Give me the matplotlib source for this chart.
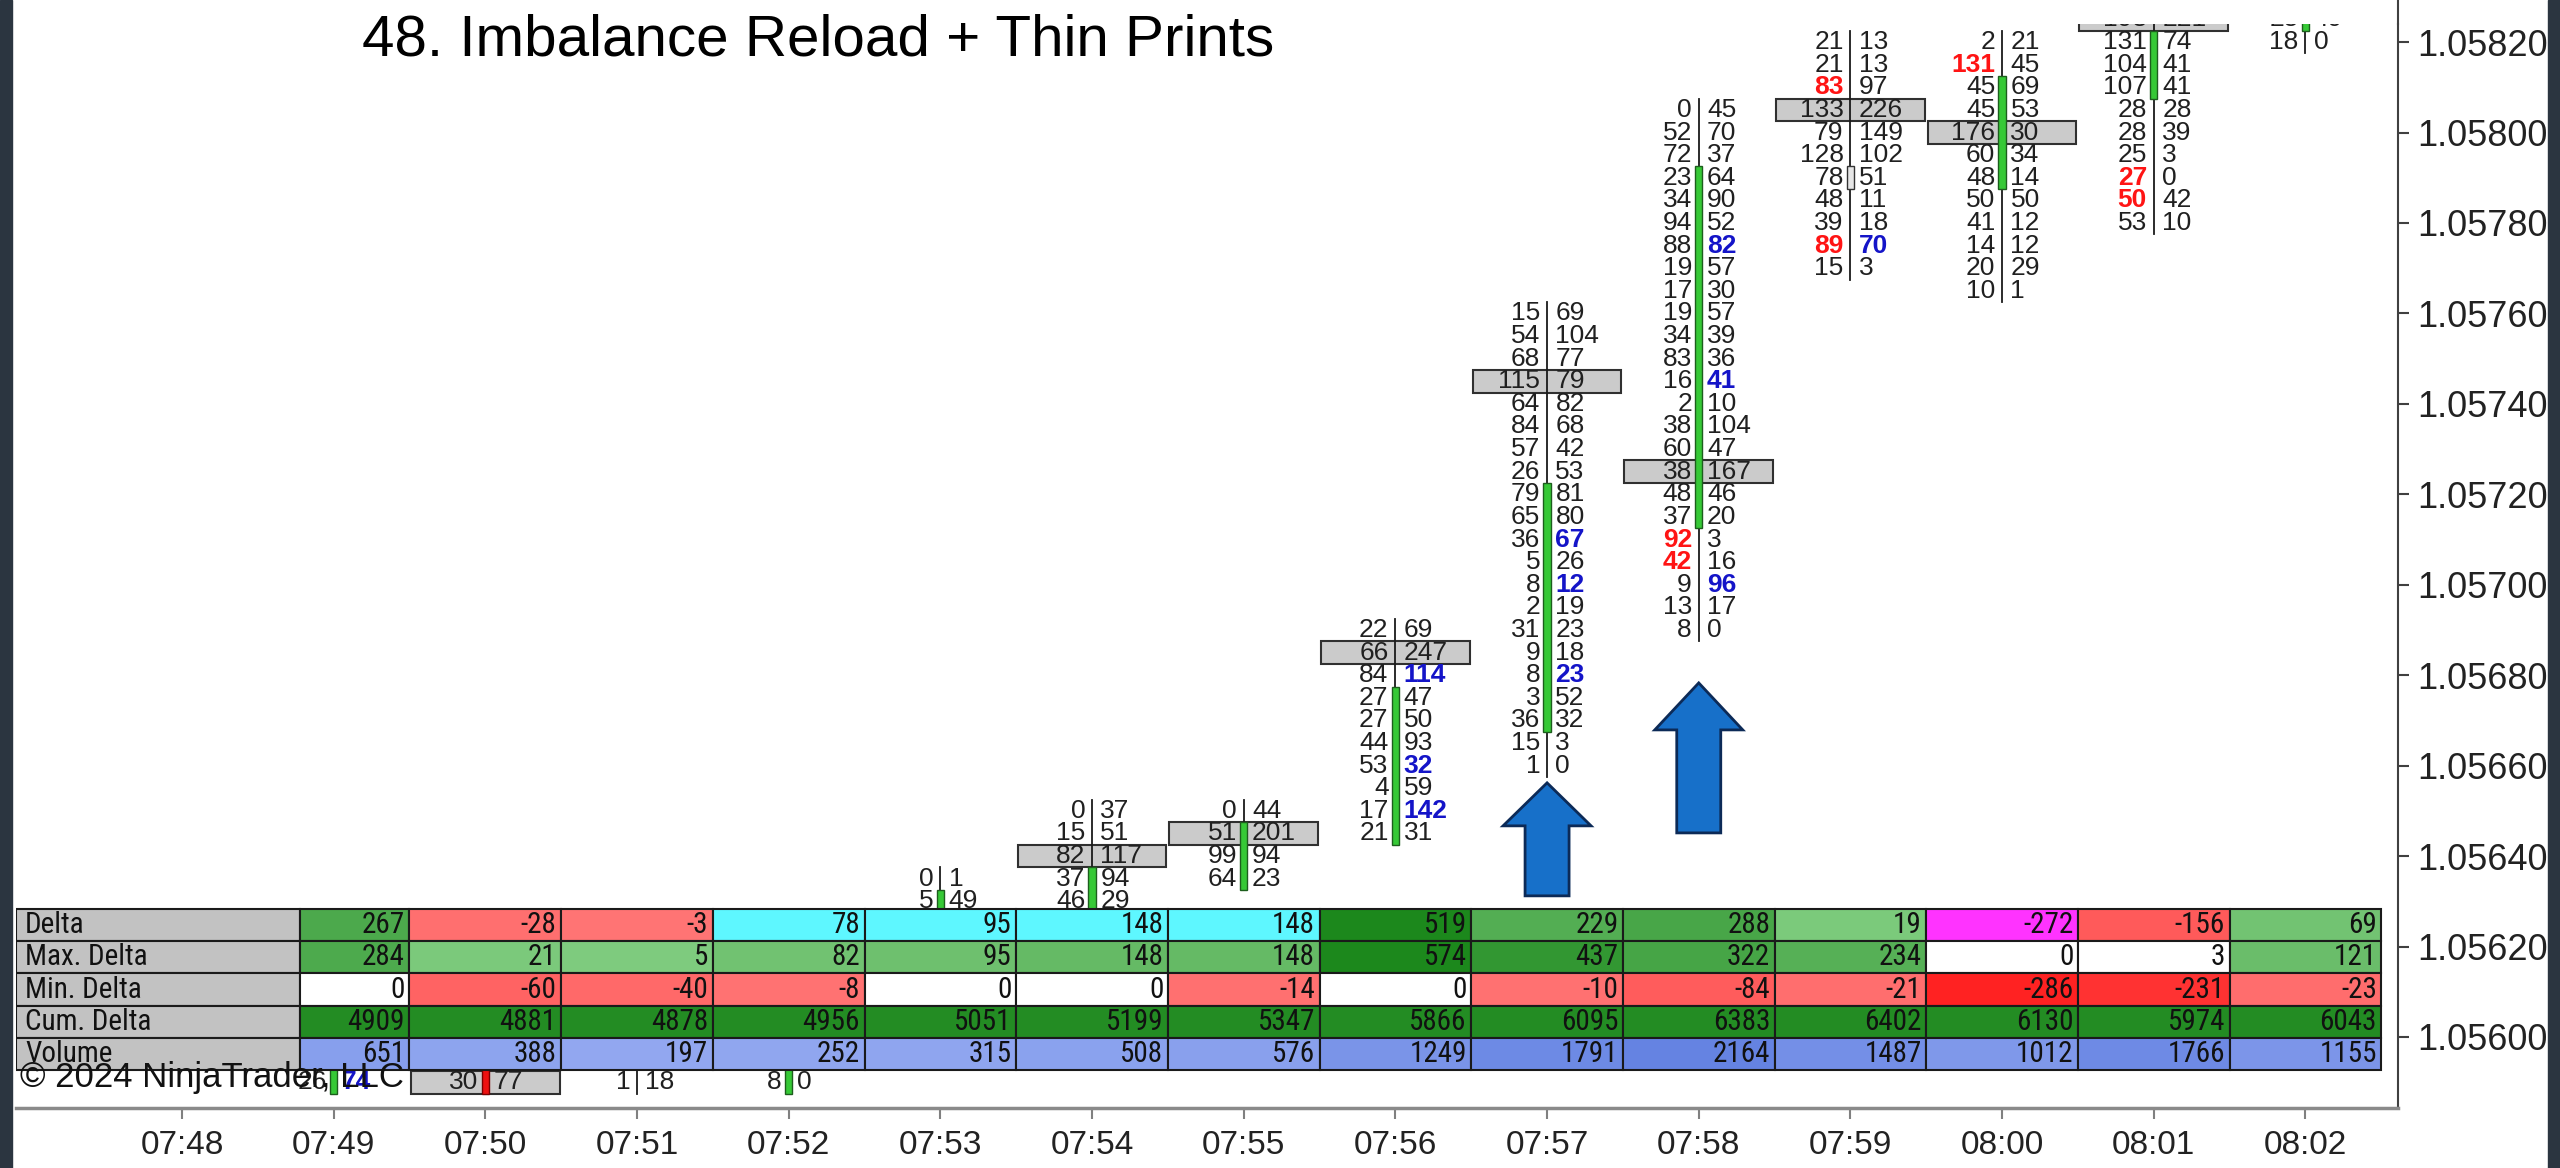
import matplotlib
matplotlib.use("Agg")
import matplotlib.pyplot as plt
import matplotlib.transforms as mtransforms
from matplotlib.patches import Rectangle, Polygon
from matplotlib.lines import Line2D
from matplotlib import font_manager

tick = 0.00005  # price ladder step

times = ["07:48", "07:49", "07:50", "07:51", "07:52", "07:53", "07:54", "07:55",
         "07:56", "07:57", "07:58", "07:59", "08:00", "08:01", "08:02"]

# candles for 07:49 .. 08:02 (parts behind the stats table are guesses)
bar_open = [1.05590, 1.05610, 1.05600, 1.05590, 1.05605, 1.05615, 1.05635,
            1.05645, 1.05670, 1.05715, 1.05790, 1.05790, 1.05810, 1.05825]
bar_close = [1.05610, 1.05590, 1.05600, 1.05610, 1.05630, 1.05635, 1.05645,
             1.05675, 1.05720, 1.05790, 1.05790, 1.05810, 1.05820, 1.05830]
bar_high = [1.05615, 1.05620, 1.05610, 1.05615, 1.05635, 1.05650, 1.05650,
            1.05690, 1.05760, 1.05805, 1.05820, 1.05820, 1.05830, 1.05835]
bar_low = [1.05590, 1.05590, 1.05590, 1.05590, 1.05600, 1.05610, 1.05635,
           1.05645, 1.05660, 1.05690, 1.05770, 1.05765, 1.05780, 1.05820]

# visible footprint rows, listed from the top price downward
fp_top = [1.05590, 1.05590, 1.05590, 1.05590, 1.05635, 1.05650, 1.05650,
          1.05690, 1.05760, 1.05805, 1.05820, 1.05820, 1.05825, 1.05825]
fp_bid = [
    [26], [30], [1], [8], [0, 5],
    [0, 15, 82, 37, 46],
    [0, 51, 99, 64],
    [22, 66, 84, 27, 27, 44, 53, 4, 17, 21],
    [15, 54, 68, 115, 64, 84, 57, 26, 79, 65, 36, 5, 8, 2, 31, 9, 8, 3, 36, 15, 1],
    [0, 52, 72, 23, 34, 94, 88, 19, 17, 19, 34, 83, 16, 2, 38, 60, 38, 48, 37, 92, 42, 9, 13, 8],
    [21, 21, 83, 133, 79, 128, 78, 48, 39, 89, 15],
    [2, 131, 45, 45, 176, 60, 48, 50, 41, 14, 20, 10],
    [193, 131, 104, 107, 28, 28, 25, 27, 50, 53],
    [25, 18],
]
fp_ask = [
    [74], [77], [18], [0], [1, 49],
    [37, 51, 117, 94, 29],
    [44, 201, 94, 23],
    [69, 247, 114, 47, 50, 93, 32, 59, 142, 31],
    [69, 104, 77, 79, 82, 68, 42, 53, 81, 80, 67, 26, 12, 19, 23, 18, 23, 52, 32, 3, 0],
    [45, 70, 37, 64, 90, 52, 82, 57, 30, 57, 39, 36, 41, 10, 104, 47, 167, 46, 20, 3, 16, 96, 17, 0],
    [13, 13, 97, 226, 149, 102, 51, 11, 18, 70, 3],
    [21, 45, 69, 53, 30, 34, 14, 50, 12, 12, 29, 1],
    [221, 74, 41, 41, 28, 39, 3, 0, 42, 10],
    [49, 0],
]
poc_price = [None, 1.05590, None, None, None, 1.05640, 1.05645, 1.05685,
             1.05745, 1.05725, 1.05805, 1.05800, 1.05825, None]

ask_imbalance = [("07:49", 1.05590), ("07:56", 1.05680), ("07:56", 1.05660),
                 ("07:56", 1.05650), ("07:57", 1.05710), ("07:57", 1.05700),
                 ("07:57", 1.05680), ("07:58", 1.05775), ("07:58", 1.05745),
                 ("07:58", 1.05700), ("07:59", 1.05775)]
bid_imbalance = [("07:58", 1.05710), ("07:58", 1.05705), ("07:59", 1.05810),
                 ("07:59", 1.05775), ("08:00", 1.05815), ("08:01", 1.05790),
                 ("08:01", 1.05785)]

# bar statistics table (07:49 .. 08:02)
row_labels = ["Delta", "Max. Delta", "Min. Delta", "Cum. Delta", "Volume"]
delta = [267, -28, -3, 78, 95, 148, 148, 519, 229, 288, 19, -272, -156, 69]
max_delta = [284, 21, 5, 82, 95, 148, 148, 574, 437, 322, 234, 0, 3, 121]
min_delta = [0, -60, -40, -8, 0, 0, -14, 0, -10, -84, -21, -286, -231, -23]
cum_delta = [4909, 4881, 4878, 4956, 5051, 5199, 5347, 5866, 6095, 6383, 6402, 6130, 5974, 6043]
volume = [651, 388, 197, 252, 315, 508, 576, 1249, 1791, 2164, 1487, 1012, 1766, 1155]
delta_cyan = ["07:52", "07:53", "07:54", "07:55"]
delta_magenta = ["08:00"]

# arrows drawn on the chart: (bar, tip price, head depth px, length px)
arrows = [("07:57", 1.056562, 43, 113), ("07:58", 1.056783, 47, 150)]

ytick_vals = [1.05600 + 0.0002 * k for k in range(12)]

main_font = "Liberation Sans"
plt.rcParams["font.family"] = [main_font, "DejaVu Sans"]


def pick_narrow_font():
    # the table uses a narrow face; take the best one that is installed
    fonts = font_manager.fontManager.ttflist
    for want in ["Liberation Sans Narrow", "Arial Narrow", "Roboto Condensed",
                 "Noto Sans Condensed", "Open Sans Condensed", "DejaVu Sans Condensed"]:
        for f in fonts:
            if f.name == want and f.weight in (400, "normal", "regular") and f.style == "normal":
                return font_manager.FontProperties(fname=f.fname)
    for fam in ["Noto Sans", "Roboto", "Open Sans", "DejaVu Sans"]:
        for st in ["condensed", "semi-condensed", "extra-condensed"]:
            for f in fonts:
                if (f.name == fam and f.stretch == st and f.style == "normal"
                        and f.weight in (400, "normal", "regular")):
                    return font_manager.FontProperties(fname=f.fname)
    return None


narrow = pick_narrow_font()
if narrow is not None:
    table_props = dict(fontproperties=narrow)
    table_size = 21
else:
    table_props = dict(family=[main_font, "DejaVu Sans"])
    table_size = 18


def mix(c1, c2, t):
    t = max(0.0, min(1.0, t))
    a = matplotlib.colors.to_rgb(c1)
    b = matplotlib.colors.to_rgb(c2)
    return tuple(a[i] + (b[i] - a[i]) * t for i in range(3))


def shade(v, scale):
    if v > 0:
        return mix("#7fcc7f", "#1c881c", v / scale)
    if v < 0:
        return mix("#ff7474", "#ff1e1e", -v / scale)
    return "white"


fig = plt.figure(figsize=(25.6, 11.68), dpi=100)
ax = fig.add_axes([16 / 2560, 60 / 1168, (2398 - 16) / 2560, (1108 - 24) / 1168])
ax.set_xlim(-1.094, 14.61)
ax.set_ylim(1.055843, 1.058240)
bar_x = {t: i for i, t in enumerate(times)}
ask_set = {(t, round(p / tick)) for t, p in ask_imbalance}
bid_set = {(t, round(p / tick)) for t, p in bid_imbalance}

for k in range(len(bar_open)):
    t = times[k + 1]
    x = bar_x[t]
    # point of control box
    if poc_price[k] is not None:
        ax.add_patch(Rectangle((x - 0.49, poc_price[k] - tick / 2), 0.98, tick,
                               facecolor="#cbcbcb", edgecolor="#303030", lw=1.5, zorder=1))
    # wick
    ax.plot([x, x], [bar_low[k] - tick / 2, bar_high[k] + tick / 2], color="#1a1a1a", lw=1.3, zorder=2)
    o, c = bar_open[k], bar_close[k]
    if c > o:
        fc, ec = "#36c936", "#1d5e1d"
    elif c < o:
        fc, ec = "#ee1111", "#7a0000"
    else:
        fc, ec = "#e6e6e6", "#333333"
    ax.add_patch(Rectangle((x - 0.024, min(o, c) - tick / 2), 0.048, abs(c - o) + tick,
                           facecolor=fc, edgecolor=ec, lw=1, zorder=3))
    # bid x ask numbers
    for i, (b, a) in enumerate(zip(fp_bid[k], fp_ask[k])):
        p = fp_top[k] - i * tick
        key = (t, round(p / tick))
        bstyle = dict(color="#ff1414", fontweight="bold") if key in bid_set else dict(color="#202020")
        astyle = dict(color="#1414c8", fontweight="bold") if key in ask_set else dict(color="#202020")
        ax.text(x - 0.045, p, str(b), ha="right", va="center", fontsize=19, zorder=4, clip_on=True, **bstyle)
        ax.text(x + 0.055, p, str(a), ha="left", va="center", fontsize=19, zorder=4, clip_on=True, **astyle)

# arrows (shape in pixels, anchored at the tip)
for t, tip, head, length in arrows:
    tr = fig.dpi_scale_trans + mtransforms.ScaledTranslation(bar_x[t], tip, ax.transData)
    pts = [(0, 0), (44, -head), (22, -head), (22, -length), (-22, -length), (-22, -head), (-44, -head)]
    ax.add_patch(Polygon([(px / 100, py / 100) for px, py in pts], closed=True, transform=tr,
                         facecolor="#1770c9", edgecolor="#0c2a57", lw=2, zorder=5))

# statistics table, fixed to the bottom of the panel
tbl = mtransforms.blended_transform_factory(ax.transData, ax.transAxes)
row_h = 32.2 / 1084
table_top = (1108 - 909) / 1084
label_right = 0.78
rows = [delta, max_delta, min_delta, cum_delta, volume]
for r, (label, vals) in enumerate(zip(row_labels, rows)):
    y0 = table_top - (r + 1) * row_h
    ax.add_patch(Rectangle((-1.094, y0), label_right + 1.094, row_h, transform=tbl,
                           facecolor="#c2c2c2", edgecolor="#1a1a1a", lw=1.5, zorder=6))
    ax.text(-1.094 + 0.06, y0 + row_h / 2, label, transform=tbl, ha="left", va="center",
            fontsize=table_size, color="#111111", zorder=7, **table_props)
    for k, v in enumerate(vals):
        t = times[k + 1]
        x = bar_x[t]
        left = max(x - 0.5, label_right)
        if r == 0:
            if t in delta_cyan:
                fc = "#5ef7ff"
            elif t in delta_magenta:
                fc = "#ff33ff"
            else:
                fc = shade(v, 520)
        elif r == 1:
            fc = shade(v, 560) if v > 4 else "white"
        elif r == 2:
            fc = shade(v, 300)
        elif r == 3:
            fc = "#238c23"
        else:
            fc = mix("#96abf1", "#6482e2", v / 2200)
        ax.add_patch(Rectangle((left, y0), x + 0.5 - left, row_h, transform=tbl,
                               facecolor=fc, edgecolor="#1a1a1a", lw=1.5, zorder=6))
        ax.text(x + 0.47, y0 + row_h / 2, str(v), transform=tbl, ha="right", va="center",
                fontsize=table_size, color="#111111", zorder=7, **table_props)

# axes styling
ax.set_xticks(range(len(times)))
ax.set_xticklabels(times)
ax.set_yticks(ytick_vals)
ax.set_yticklabels(["%.5f" % v for v in ytick_vals])
ax.yaxis.tick_right()
ax.tick_params(axis="x", labelsize=24, length=8, width=1.5, color="#808080", labelcolor="#222222", pad=8)
ax.tick_params(axis="y", labelsize=26, length=8, width=1.5, color="#404040", labelcolor="#222222", pad=6)
for side in ["left", "top"]:
    ax.spines[side].set_visible(False)
ax.spines["bottom"].set_color("#8a8a8a")
ax.spines["bottom"].set_linewidth(2.5)
ax.spines["right"].set_color("#404040")
ax.spines["right"].set_linewidth(1.5)
fig.add_artist(Line2D([2398 / 2560, 2398 / 2560], [1 - 24 / 1168, 1], color="#404040", lw=1.5))

# window frame and overlay texts
fig.add_artist(Rectangle((0, 0), 12 / 2560, 1, transform=fig.transFigure, color="#2b3540"))
fig.add_artist(Rectangle((2548 / 2560, 0), 12 / 2560, 1, transform=fig.transFigure, color="#2b3540"))
fig.text(362 / 2560, 1 - 41 / 1168, "48. Imbalance Reload + Thin Prints", fontsize=42,
         ha="left", va="center", color="black")
fig.text(20 / 2560, 1 - 1078 / 1168, "\u00a9 2024 NinjaTrader, LLC", fontsize=25,
         ha="left", va="center", color="#111111", zorder=10)

fig.savefig("out.png", dpi=100)
